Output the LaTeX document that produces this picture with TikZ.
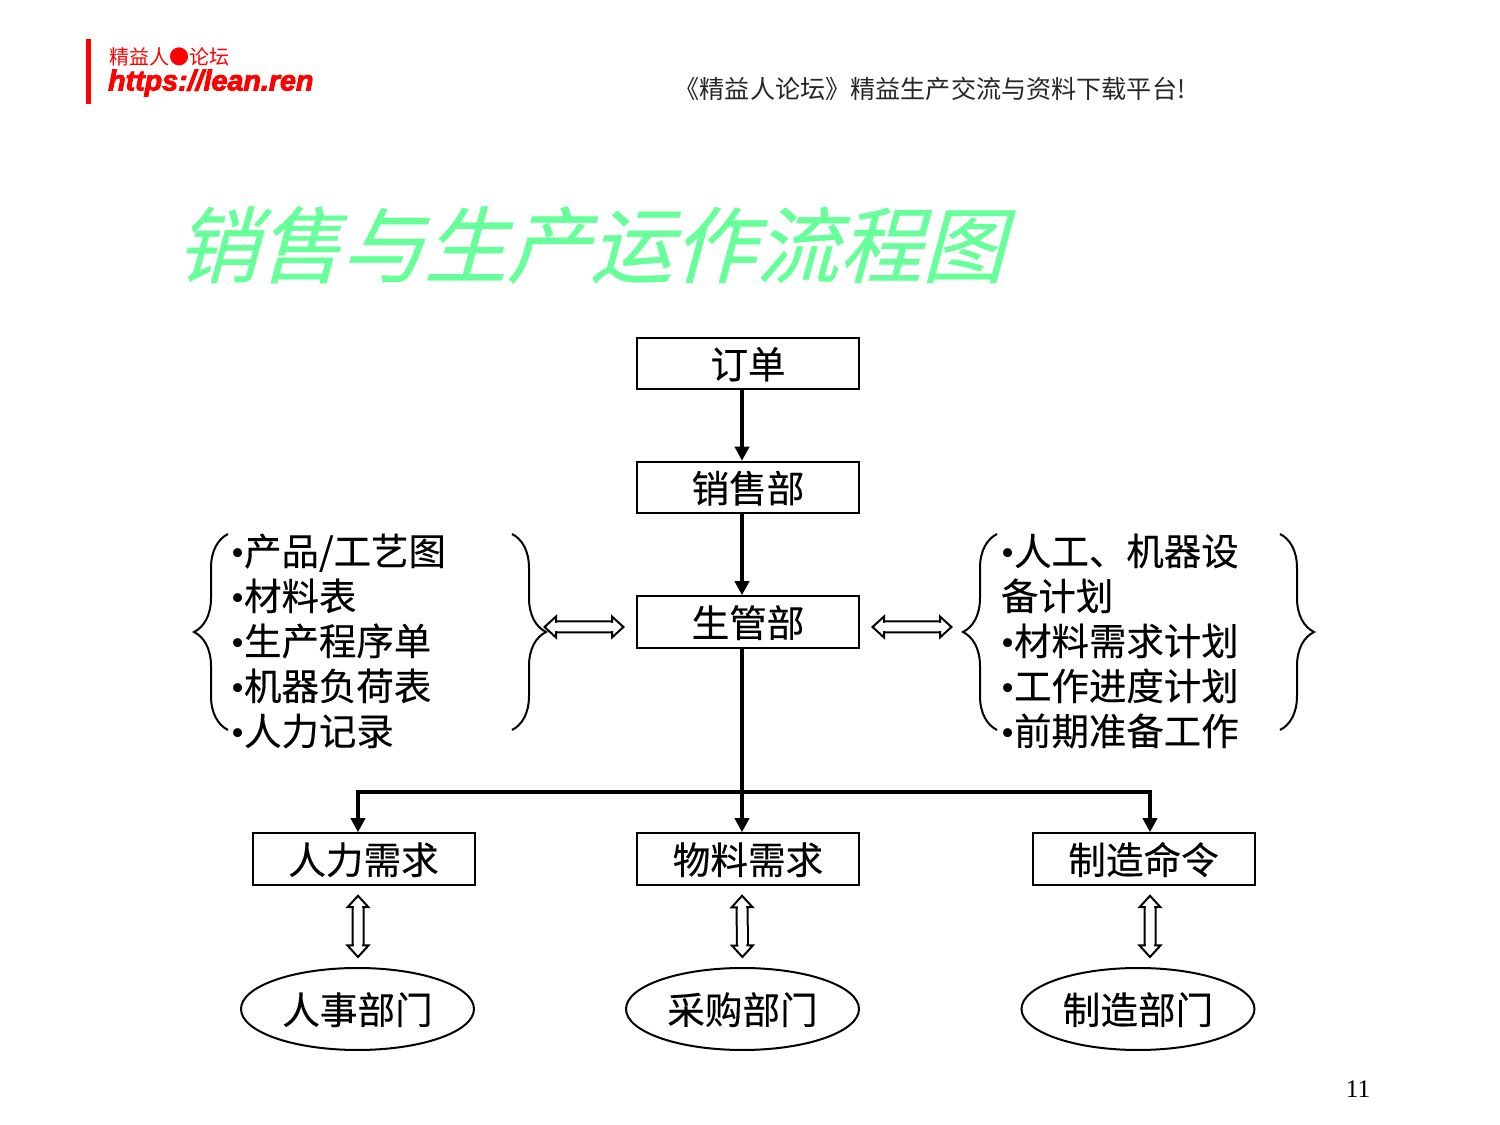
\documentclass[tikz,border=0pt]{standalone}
\usepackage{fontspec}
\usepackage{xcolor}
\usetikzlibrary{shapes.geometric,arrows.meta,decorations.pathreplacing}
\setmainfont{Noto Sans CJK SC}
\newfontfamily\slantcjk[FakeSlant=0.27,FakeBold=0.5]{Noto Sans CJK SC}
\newfontfamily\boxcjk[FakeBold=0.3]{Noto Sans CJK SC}
\newfontfamily\urlfont[FakeBold=3]{Liberation Sans}
\newfontfamily\numfont{Liberation Serif}
\newcommand{\bul}{{\numfont •}}
\definecolor{titlegreen}{HTML}{66FF99}
\begin{document}
\begin{tikzpicture}[node distance=1.5cm,
    box/.style={draw, rectangle, line width=.02cm, minimum width=2.22cm, minimum height=.515cm, inner sep=0pt, text height=.36cm, text depth=.06cm, font=\boxcjk\fontsize{10.7}{12.6}\selectfont},
    dept/.style={draw, ellipse, line width=.02cm, minimum width=2.33cm, minimum height=.82cm, inner sep=0pt, text height=.36cm, text depth=.06cm, font=\boxcjk\fontsize{10.7}{12.6}\selectfont},
    listbox/.style={text width=2.4cm, align=left, inner sep=0pt, font=\boxcjk\fontsize{10.65}{12.8}\selectfont},
    flow/.style={line width=.045cm, -{Triangle[length=.14cm, width=.14cm]}},
    hollow/.style 2 args={shorten <=#1, shorten >=#2, double, double distance=.09cm, line width=.02cm, {Triangle[open, length=.14cm, width=.25cm]}-{Triangle[open, length=.14cm, width=.25cm]}, postaction={draw=white, double=none, line width=.08cm, -, shorten <=#1+.11cm, shorten >=#2+.11cm}},
    curly/.style={line width=.02cm, decorate, decoration={brace, amplitude=.34cm}}]
  \useasboundingbox (0,0) rectangle (15,11.25);

  \fill[red] (.86,10.21) rectangle (.91,10.86);
  \node (forum) [anchor=west, inner sep=0pt, text=red, font=\fontsize{5.7}{7}\selectfont] at (1.09,10.68) {精益人●论坛};
  \node (site) [below of=forum, node distance=.26cm, anchor=center, inner sep=0pt, text=red, font=\urlfont\bfseries\itshape\fontsize{8.15}{9}\selectfont, xshift=.41cm] {https://lean.ren};
  \node (slogan) [anchor=center, inner sep=0pt, text=black!85, font=\fontsize{7.15}{8}\selectfont] at (9.30,10.36) {《精益人论坛》精益生产交流与资料下载平台!};
  \node (title) [anchor=center, inner sep=0pt, text=titlegreen, font=\slantcjk\fontsize{23.6}{26}\selectfont] at (5.90,8.8) {销售与生产运作流程图};
  \node (page) [anchor=center, inner sep=0pt, font=\numfont\fontsize{7.2}{8}\selectfont] at (13.58,.36) {11};

  \node (order) [box] at (7.48,7.615) {订单};
  \node (sales) [box, below of=order, node distance=1.24cm] {销售部};
  \node (scm) [box, below of=sales, node distance=1.345cm] {生管部};
  \node (material) [box, below of=scm, node distance=2.37cm] {物料需求};
  \node (hrneed) [box, left of=material, node distance=3.845cm] {人力需求};
  \node (make) [box, right of=material, node distance=3.955cm] {制造命令};
  \node (hrdept) [dept, below of=hrneed, node distance=1.5cm, xshift=-.06cm] {人事部门};
  \node (buydept) [dept, below of=material, node distance=1.5cm, xshift=-.055cm] {采购部门};
  \node (makedept) [dept, below of=make, node distance=1.5cm, xshift=-.055cm] {制造部门};
  \node (prodlist) [listbox, left of=scm, node distance=3.97cm, yshift=-.19cm] {\bul 产品/工艺图\\\bul 材料表\\\bul 生产程序单\\\bul 机器负荷表\\\bul 人力记录};
  \node (planlist) [listbox, right of=scm, node distance=3.73cm, yshift=-.19cm] {\bul 人工、机器设\\备计划\\\bul 材料需求计划\\\bul 工作进度计划\\\bul 前期准备工作};

  \coordinate (lefttip) at (5.43,4.98);
  \coordinate (righttip) at (9.63,4.98);
  \coordinate (bus) at ([xshift=-.06cm, yshift=.40cm]material.north);

  \draw[curly] (2.28,3.95) -- (2.28,5.91);
  \draw[curly] (5.12,5.91) -- (5.12,3.95);
  \draw[curly] (9.97,3.95) -- (9.97,5.91);
  \draw[curly] (12.80,5.91) -- (12.80,3.95);

  \draw[flow] ([xshift=-.06cm]order.south) -- ([xshift=-.06cm]sales.north);
  \draw[flow] ([xshift=-.06cm]sales.south) -- ([xshift=-.06cm]scm.north);
  \draw[flow] ([xshift=-.06cm]scm.south) -- ([xshift=-.06cm]material.north);
  \draw[flow] (bus) -| ([xshift=-.055cm]hrneed.north);
  \draw[flow] (bus) -| ([xshift=.065cm]make.north);

  \draw[hollow={0cm}{.11cm}] (lefttip) -- ([yshift=-.05cm]scm.west);
  \draw[hollow={.11cm}{.10cm}] ([yshift=-.05cm]scm.east) -- (righttip);
  \draw[hollow={.085cm}{.085cm}] ([xshift=-.055cm]hrneed.south) -- ([xshift=.005cm]hrdept.north);
  \draw[hollow={.085cm}{.085cm}] ([xshift=-.06cm]material.south) -- (buydept.north);
  \draw[hollow={.085cm}{.085cm}] ([xshift=.065cm]make.south) -- ([xshift=.12cm]makedept.north);
\end{tikzpicture}
\end{document}
